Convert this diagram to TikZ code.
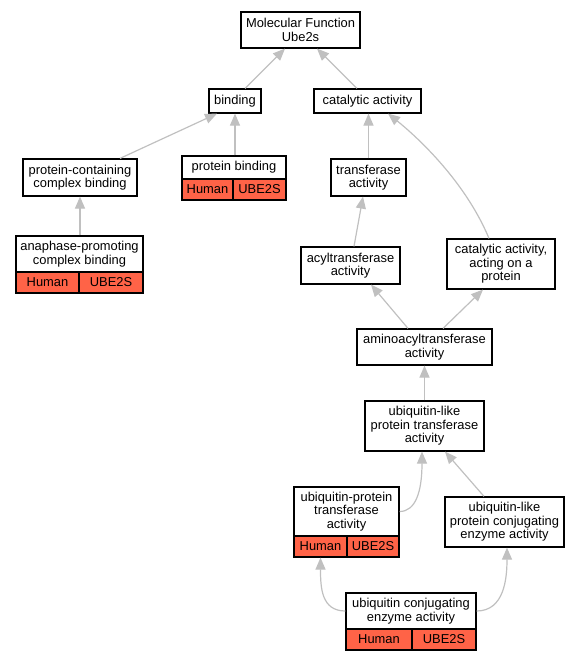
\documentclass[tikz,border=0pt]{standalone}
\usepackage{fontspec}
\setmainfont{Liberation Sans}
\usetikzlibrary{arrows.meta,calc}
\definecolor{tomatored}{RGB}{255,99,71}
\definecolor{edgegrey}{RGB}{192,192,192}
\begin{document}
\begin{tikzpicture}[x=1pt,y=-1pt,
  box/.style={draw=black, line width=1.2pt, fill=white, inner sep=0pt, align=center,
              font=\fontsize{12.9}{13.4}\selectfont},
  cell/.style={box, fill=tomatored},
  edge/.style={draw=edgegrey, line width=1.2pt, -{Triangle[length=12pt,width=10pt]}}]
\useasboundingbox (0,0) rectangle (579,661);
% plain boxes
\node[box, minimum width=119pt, minimum height=36pt] (mf) at (300.5,30) {Molecular Function\\Ube2s};
\node[box, minimum width=52pt, minimum height=24pt] (binding) at (235,101) {binding};
\node[box, minimum width=107pt, minimum height=24pt] (cat) at (367.5,101) {catalytic activity};
\node[box, minimum width=114pt, minimum height=37pt] (pcb) at (80,177.5) {protein-containing\\complex binding};
\node[box, minimum width=75pt, minimum height=37pt] (tr) at (368.5,177.5) {transferase\\activity};
\node[box, minimum width=99pt, minimum height=37pt] (acyl) at (350.5,265.5) {acyltransferase\\activity};
\node[box, minimum width=108pt, minimum height=50pt] (caop) at (501,264) {catalytic activity,\\acting on a\\protein};
\node[box, minimum width=135pt, minimum height=36pt] (amino) at (424.5,347) {aminoacyltransferase\\activity};
\node[box, minimum width=119pt, minimum height=50pt] (ult) at (424.5,426) {ubiquitin-like\\protein transferase\\activity};
\node[box, minimum width=119pt, minimum height=50pt] (ulc) at (504.5,522) {ubiquitin-like\\protein conjugating\\enzyme activity};
% tables
\node[box, minimum width=104pt, minimum height=23pt] (pbh) at (234,167.5) {protein binding};
\node[cell, minimum width=51pt, minimum height=21pt] (pbH) at (207.5,189.5) {Human};
\node[cell, minimum width=53pt, minimum height=21pt] (pbU) at (259.5,189.5) {UBE2S};
\node[box, minimum width=127pt, minimum height=36pt] (apch) at (79.5,254) {anaphase-promoting\\complex binding};
\node[cell, minimum width=63pt, minimum height=21pt] (apcH) at (47.5,282.5) {Human};
\node[cell, minimum width=64pt, minimum height=21pt] (apcU) at (111,282.5) {UBE2S};
\node[box, minimum width=105pt, minimum height=49pt] (upth) at (346.5,511.5) {ubiquitin-protein\\transferase\\activity};
\node[cell, minimum width=53pt, minimum height=21pt] (uptH) at (320.5,546.5) {Human};
\node[cell, minimum width=52pt, minimum height=21pt] (uptU) at (373,546.5) {UBE2S};
\node[box, minimum width=130pt, minimum height=36pt] (uceh) at (411,611) {ubiquitin conjugating\\enzyme activity};
\node[cell, minimum width=66pt, minimum height=21pt] (uceH) at (379,639.5) {Human};
\node[cell, minimum width=64pt, minimum height=21pt] (uceU) at (444,639.5) {UBE2S};
% edges
\draw[edge] ($(binding.north)+(10,0)$) -- ($(mf.south)+(-15.5,0)$);
\draw[edge] ($(cat.north)+(-10.5,0)$) -- ($(mf.south)+(16.5,0)$);
\draw[edge] ($(pcb.north)+(40,0)$) -- ($(binding.south)+(-18,0)$);
\draw[edge] ($(pbh.north)+(1,0)$) -- (binding.south);
\draw[edge] ($(apch.north)+(0.5,0)$) -- (pcb.south);
\draw[edge] (tr.north) -- ($(cat.south)+(1,0)$);
\draw[edge] ($(caop.north)+(-12,0)$) .. controls +(-25,-60) and +(25,20) .. ($(cat.south)+(20.5,0)$);
\draw[edge] ($(acyl.north)+(3.5,0)$) -- ($(tr.south)+(-5.5,0)$);
\draw[edge] ($(amino.north)+(-16.5,0)$) -- ($(acyl.south)+(20.5,0)$);
\draw[edge] ($(amino.north)+(18.5,0)$) -- ($(caop.south)+(-18,0)$);
\draw[edge] (ult.north) -- (amino.south);
\draw[edge] (upth.east) .. controls +(16,0) and +(0,40) .. ($(ult.south)+(-2.5,0)$);
\draw[edge] ($(ulc.north)+(-20.5,0)$) -- ($(ult.south)+(20.5,0)$);
\draw[edge] (uceh.west) .. controls +(-24,0) and +(0,30) .. (uptH.south);
\draw[edge] (uceh.east) .. controls +(28,0) and +(0,30) .. ($(ulc.south)+(2.5,0)$);
\end{tikzpicture}
\end{document}
